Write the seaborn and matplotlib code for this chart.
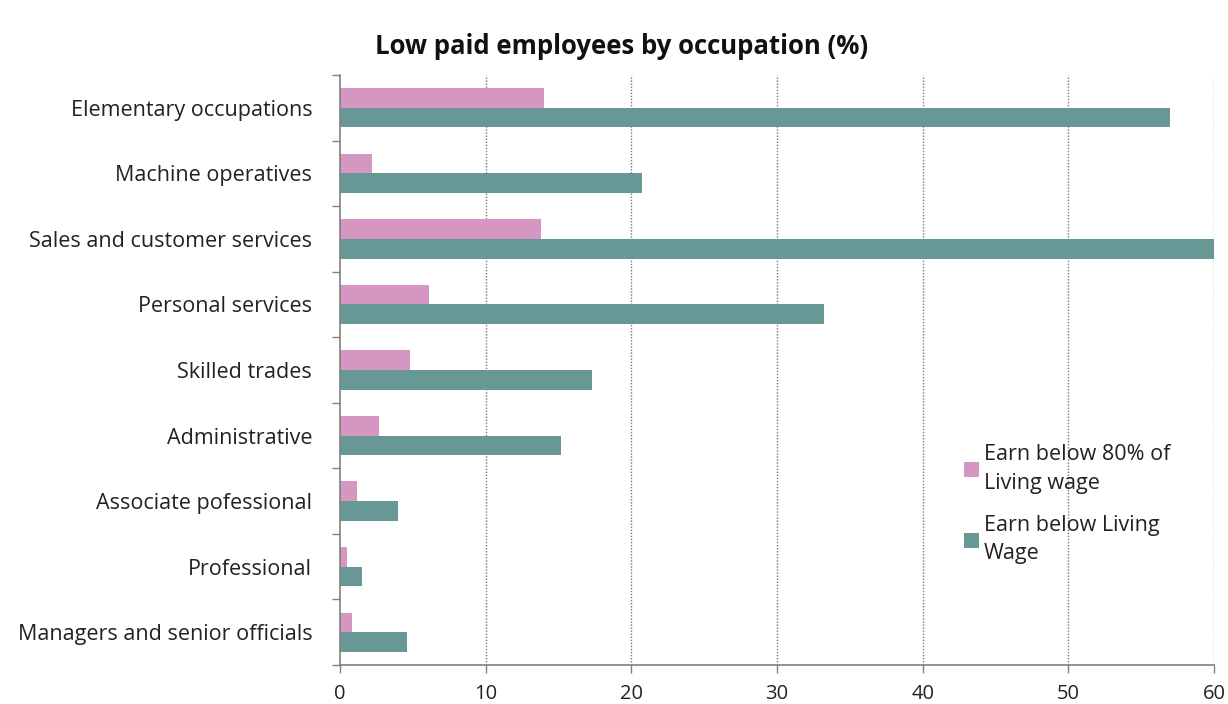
import matplotlib
matplotlib.use("Agg")
import matplotlib.pyplot as plt
import seaborn as sns
import pandas as pd
import numpy as np
from matplotlib.patches import Patch

occupations = [
    "Elementary occupations",
    "Machine operatives",
    "Sales and customer services",
    "Personal services",
    "Skilled trades",
    "Administrative",
    "Associate pofessional",
    "Professional",
    "Managers and senior officials",
]
below_80_pct = [14.0, 2.2, 13.8, 6.1, 4.8, 2.7, 1.2, 0.5, 0.8]
below_living = [57.0, 20.7, 60.1, 33.2, 17.3, 15.2, 4.0, 1.5, 4.6]
series_names = ["Earn below 80% of\nLiving wage", "Earn below Living\nWage"]
x_ticks = [0, 10, 20, 30, 40, 50, 60]

colors = ["#D696C2", "#679896"]

df = pd.DataFrame({
    "occupation": occupations * 2,
    "value": below_80_pct + below_living,
    "series": [series_names[0]] * len(occupations) + [series_names[1]] * len(occupations),
})

sns.set_style("white")
plt.rcParams["font.family"] = ["Open Sans", "DejaVu Sans"]

fig = plt.figure(figsize=(12.28, 7.04), dpi=100)
ax = fig.add_axes([340 / 1228, 1 - 665 / 704, (1214 - 340) / 1228, (665 - 75) / 704])

sns.barplot(
    data=df, x="value", y="occupation", hue="series", orient="h",
    order=occupations, hue_order=series_names, palette=colors,
    width=0.6, gap=0, saturation=1, ax=ax, legend=False, linewidth=0,
)

ax.set_xlim(0, 60)
ax.set_ylim(len(occupations) - 0.5, -0.5)
ax.set_xticks(x_ticks)
ax.set_xticklabels([str(t) for t in x_ticks], fontsize=14.5, color="#222222")
ax.set_xlabel("")
ax.set_ylabel("")

# category labels without ticks; tick marks at the category boundaries
ax.tick_params(axis="y", which="major", length=0, pad=20, labelsize=15.5, labelcolor="#222222")
ax.set_yticks(np.arange(-0.5, len(occupations)), minor=True)
ax.tick_params(axis="y", which="minor", length=6, width=1, color="#808080", direction="out", left=True)
ax.tick_params(axis="x", which="major", length=6, width=1, color="#808080", direction="out", bottom=True, pad=8)

for x in x_ticks[1:]:
    ax.axvline(x, color="#777777", lw=1.0, ls=(0, (1, 1.2)), zorder=0)

for side in ["top", "right"]:
    ax.spines[side].set_visible(False)
for side in ["left", "bottom"]:
    ax.spines[side].set_color("#808080")
    ax.spines[side].set_linewidth(1.2)

handles = [Patch(facecolor=c, edgecolor="none") for c in colors]
leg = fig.legend(
    handles, series_names, loc="upper left", bbox_to_anchor=(945 / 1228, 1 - 425 / 704),
    frameon=False, fontsize=15.5, handlelength=0.7, handleheight=0.7, handletextpad=0.2,
    labelspacing=1.0,
)
for t in leg.get_texts():
    t.set_linespacing(1.45)
    t.set_color("#222222")

fig.text(622 / 1228, 1 - 47 / 704, "Low paid employees by occupation (%)",
         ha="center", va="center", fontsize=18.5, fontweight="bold", color="#111111")

fig.savefig("out.png", dpi=100, facecolor="white")
